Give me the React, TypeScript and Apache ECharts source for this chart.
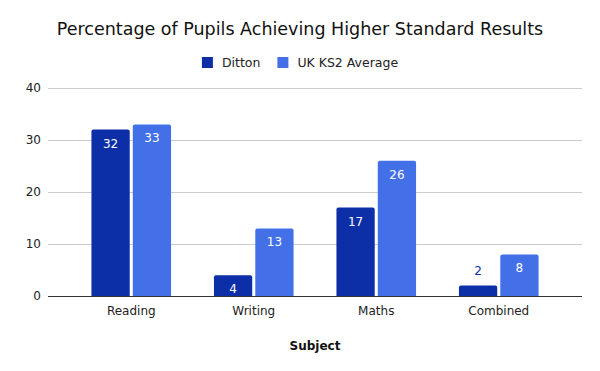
import React, { useEffect, useRef } from "react";
import * as echarts from "echarts";

const categories = ["Reading", "Writing", "Maths", "Combined"];
const ditton = [32, 4, 17, 2];
const ukAverage = [33, 13, 26, 8];
const seriesNames = ["Ditton", "UK KS2 Average"];

const FONT = "DejaVu Sans";

export default function App() {
  const ref = useRef<HTMLDivElement>(null);
  useEffect(() => {
    if (!ref.current) return;
    const chart = echarts.init(ref.current, undefined, { renderer: "svg" });
    chart.setOption({
      animation: false,
      textStyle: { fontFamily: FONT },
      title: {
        text: "Percentage of Pupils Achieving Higher Standard Results",
        left: "center",
        top: 15,
        textStyle: { fontSize: 17.5, fontWeight: "normal", color: "#111", fontFamily: FONT },
      },
      legend: {
        top: 51,
        left: "center",
        itemWidth: 11,
        itemHeight: 11,
        itemGap: 17,
        icon: "rect",
        textStyle: { fontSize: 12.5, color: "#222", fontFamily: FONT, padding: [0, 0, 0, 4] },
        data: seriesNames,
      },
      grid: [
        { left: 48, right: 18, top: 88, bottom: 75 },
        { left: 70, right: 40, top: 88, bottom: 75 },
      ],
      xAxis: [
        {
          gridIndex: 0,
          type: "category",
          data: categories,
          show: false,
        },
        {
          gridIndex: 1,
          type: "category",
          data: categories,
          axisLine: { show: false },
          axisTick: { show: false },
          axisLabel: { fontSize: 12, color: "#222", margin: 9, fontFamily: FONT },
          name: "Subject",
          nameLocation: "middle",
          nameGap: 44,
          nameTextStyle: { fontSize: 12, fontWeight: "bold", color: "#111", fontFamily: FONT },
        },
      ],
      yAxis: [
        {
          gridIndex: 0,
          type: "value",
          min: 0,
          max: 40,
          interval: 10,
          axisLine: { show: true, onZero: false, lineStyle: { color: "transparent" } },
          axisTick: { show: false },
          axisLabel: { fontSize: 12, color: "#222", margin: 7, fontFamily: FONT },
          splitLine: { lineStyle: { color: "#cccccc" } },
        },
        {
          gridIndex: 1,
          type: "value",
          min: 0,
          max: 40,
          interval: 10,
          show: false,
        },
      ],
      series: [
        {
          type: "line",
          xAxisIndex: 0,
          yAxisIndex: 0,
          data: [],
          markLine: {
            silent: true,
            symbol: "none",
            label: { show: false },
            lineStyle: { color: "#333", width: 1, type: "solid" },
            data: [{ yAxis: 0 }],
          },
        },
        {
          name: seriesNames[0],
          type: "bar",
          xAxisIndex: 1,
          yAxisIndex: 1,
          data: ditton.map((v) =>
            v < 4
              ? { value: v, label: { position: "top", color: "#0d2fa8", distance: 9 } }
              : v
          ),
          barGap: "8%",
          barCategoryGap: "35%",
          itemStyle: { color: "#0c2fa8", borderRadius: [2, 2, 0, 0] },
          label: {
            show: true,
            position: "insideTop",
            distance: 8,
            color: "#fff",
            fontSize: 12,
            fontFamily: FONT,
          },
        },
        {
          name: seriesNames[1],
          type: "bar",
          xAxisIndex: 1,
          yAxisIndex: 1,
          data: ukAverage,
          itemStyle: { color: "#4370e7", borderRadius: [2, 2, 0, 0] },
          label: {
            show: true,
            position: "insideTop",
            distance: 8,
            color: "#fff",
            fontSize: 12,
            fontFamily: FONT,
          },
        },
      ],
    });
    return () => chart.dispose();
  }, []);
  return <div ref={ref} style={{ width: 600, height: 371, position: "absolute", left: 0, top: 0 }} />;
}
